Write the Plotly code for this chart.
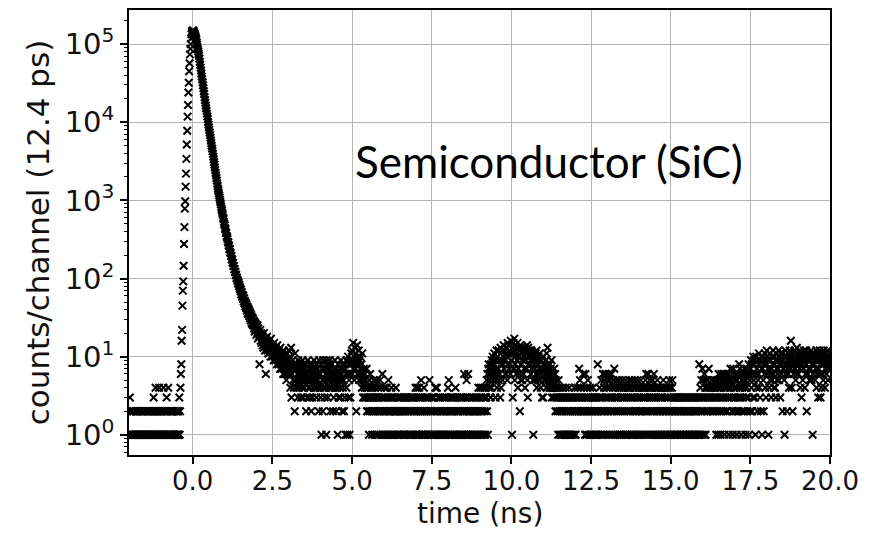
import plotly.graph_objects as go

# Time-resolved photon counts, 12.4 ps per channel, first channel at -1.984 ns
CHANNEL_NS = 0.0124
T_START = -1.984

# counts per channel before the excitation pulse (one character per channel)
PRE_COUNTS = (
    "1321212012 2111021212 1201121012 2112012121 1021121102 1211201212 "
    "2312124112 0212141212 1210214121 2012302141 1210121212 0121121012 212121312"
)

# rising edge of the pulse
RISE_COUNTS = [4, 6, 8, 16, 22, 45, 70, 92, 146, 277, 455, 785, 977, 1500, 2200,
               3400, 5200, 7800, 11800, 16600, 24000, 32000, 45000, 57000, 74000,
               87000, 100000, 118000, 134000, 143000, 147000]

# decay from t = 0 to t = 3 ns
DECAY_COUNTS = [
    148000, 150000, 146000, 142000, 138000, 134000, 129000, 124000,
    120000, 113000, 105000, 98500, 92000, 86000, 80500, 75500,
    70800, 65000, 59500, 54600, 50000, 45900, 42000, 38500,
    35500, 32500, 29800, 27300, 25000, 23000, 21000, 19300,
    17800, 16400, 15100, 14000, 12900, 11900, 11000, 10100,
    9330, 8650, 7990, 7400, 6840, 6330, 5850, 5410,
    5010, 4620, 4270, 3940, 3630, 3360, 3100, 2860,
    2630, 2440, 2250, 2090, 1930, 1790, 1650, 1530,
    1410, 1330, 1240, 1160, 1090, 1020, 955, 895,
    832, 779, 741, 688, 653, 602, 577, 531,
    498, 479, 441, 426, 392, 381, 349, 338,
    319, 296, 288, 266, 262, 241, 236, 217,
    212, 195, 193, 176, 175, 160, 158, 145,
    144, 131, 133, 121, 122, 110, 112, 101,
    103, 94, 95, 86, 89, 80, 83, 74,
    77, 69, 72, 63, 67, 59, 62, 55,
    60, 51, 56, 48, 52, 44, 49, 42,
    47, 39, 44, 36, 42, 35, 40, 33,
    38, 31, 36, 29, 34, 27, 32, 26,
    31, 25, 29, 23, 28, 21, 27, 22,
    26, 19, 24, 20, 25, 17, 23, 18,
    21, 8, 19, 22, 16, 20, 15, 18,
    19, 14, 18, 13, 20, 15, 17, 12,
    17, 6, 16, 13, 18, 12, 15, 11,
    15, 11, 16, 12, 14, 10, 17, 12,
    13, 10, 14, 11, 12, 9, 15, 10,
    12, 9, 13, 10, 11, 8, 14, 9,
    11, 8, 12, 9, 10, 7, 13, 8,
    10, 7, 11, 8, 9, 6, 12, 7,
    9, 6, 10, 8, 9, 5, 11, 7,
    8, 6,
]

# background tail from 3 ns to 20 ns, one base-36 character per channel (a = 10 ...)
TAIL_COUNTS = (
    # 3-4 ns
    "9c76a48d37 6958472b57 5846397456 8536749385 4675825639 5473846527 3865495746 5384756294 "
    # 4-5 ns
    "4638175294 5734681957 3648592746 8452637594 6274518365 4739562847 5283716491 6a3851936b "
    # 5-6 ns
    "8c69f7a5d8 7b29e6a8c5 96a7584b63 5734635472 3243152634 2314235213 4231532143 2352143261 "
    # 6-7 ns
    "3214231204 1325132213 2413021322 1240213212 3120231302 2131203213 0231213021 3123012302 "
    # 7-8 ns
    "2143124013 2410325121 3214021312 2031213502 1230213031 2140214213 0312132102 3120213102 "
    # 8-9 ns
    "1320415213 2130231203 1214302132 0213120313 2132061203 1523162102 3120312132 0213213021 "
    # 9-10 ns
    "2413024132 1420314213 4352617846 5738496a75 8b69357c46 a7c5963d48 9c58ae7c96 b6da5f8eb7 "
    # 10-11 ns
    "c86g9b1d3f b7h58ad6b9 f47da62e58 db59c6a7d4 9cb7e53d8c a8b96c7ba5 1a8975b6c4 9685a7b594 "
    # 11-12 ns
    "6937a38586 7594b6d857 6485749364 5437462534 3241532413 2134213021 3142312031 2413210312 "
    # 12-13 ns
    "2031423120 3240327352 4230326243 2162314253 3120413213 2413202132 1328213042 3152136214 "
    # 13-14 ns
    "5263614253 2641532162 3415273143 2531423514 1324153241 3241520314 2435142315 3142413524 "
    # 14-15 ns
    "2413524132 4152314243 1342516243 2614352413 4253162431 3241524132 1423142315 2413241423 "
    # 15-16 ns
    "3142524132 1452313213 2130213231 3213021302 1320312132 2031213021 3120321312 2132013213 "
    # 16-17 ns
    "8314253172 3516241352 4253740324 3452032435 2431524316 4253146235 3624153426 5243615347 "
    # 17-18 ns
    "4352617324 5362415263 2847361524 6352746153 4726381652 7948263a59 8316a47295 6b48392a71 "
    # 18-19 ns
    "7a5286b493 8c6a7194b5 9637a58c64 a8493b7596 7c58a3b968 92b7a518c6 8a2796b48c a7g94b28a6 "
    # 19-20 ns
    "9c7a5b8d69 b6a87c4b93 8a5b7c94a6 c82b96a7b5 9a7c58b16a 8b95a7c469 a37b9c6384 b96a5c8a47 "
    "9b6a8c5a79 8"
)


def decode(s):
    return [int(c, 36) for c in s if not c.isspace()]


counts = decode(PRE_COUNTS) + RISE_COUNTS + DECAY_COUNTS + decode(TAIL_COUNTS)
times = [T_START + i * CHANNEL_NS for i in range(len(counts))]

# empty channels cannot be shown on a log axis
xs = [t for t, c in zip(times, counts) if c > 0]
ys = [c for c in counts if c > 0]

Y_TICKS = [1, 10, 100, 1000, 10000, 100000]
Y_TICK_TEXT = ["10<sup>%d</sup>" % k for k in range(6)]
Y_MINOR = [m * 10 ** k for k in range(-1, 6) for m in range(2, 10)]

fig = go.Figure()
fig.add_trace(go.Scatter(
    x=xs, y=ys, mode="markers",
    marker=dict(symbol="x-thin", size=7.5, color="black",
                line=dict(width=2, color="black")),
    hoverinfo="skip",
))

axis_common = dict(
    showline=True, linecolor="black", linewidth=1.5, mirror=True,
    ticks="outside", ticklen=7, tickwidth=1.5, tickcolor="black",
    showgrid=True, gridcolor="#b5b5b5", gridwidth=1.4, zeroline=False,
)

fig.update_layout(
    width=879, height=536,
    margin=dict(l=129, r=49, t=8, b=81),
    paper_bgcolor="white", plot_bgcolor="white",
    showlegend=False,
    font=dict(family="DejaVu Sans", color="#111111"),
    xaxis=dict(
        range=[-2.0, 20.0], tick0=0, dtick=2.5, tickformat=".1f",
        ticklabelstandoff=-5,
        tickfont=dict(size=26, color="#111111"),
        **axis_common,
    ),
    yaxis=dict(
        type="log", range=[-0.259, 5.437],
        tickmode="array", tickvals=Y_TICKS, ticktext=Y_TICK_TEXT,
        tickfont=dict(size=29, color="#111111"),
        minor=dict(tickmode="array", tickvals=Y_MINOR, ticks="outside",
                   ticklen=3.5, tickwidth=1, tickcolor="black", showgrid=False),
        title=dict(text="counts/channel (12.4 ps)", font=dict(size=31), standoff=6),
        **axis_common,
    ),
    annotations=[
        dict(
            x=11.18, y=3.5, xref="x", yref="y",
            text="Semiconductor (SiC)", showarrow=False,
            xanchor="center", yanchor="middle",
            font=dict(family="Lato", size=44, color="black"),
        ),
        dict(
            x=0.5, y=-0.131, xref="paper", yref="paper",
            text="time (ns)", showarrow=False,
            xanchor="center", yanchor="middle",
            font=dict(size=28, color="#111111"),
        ),
    ],
)

fig.write_html("out.html")
